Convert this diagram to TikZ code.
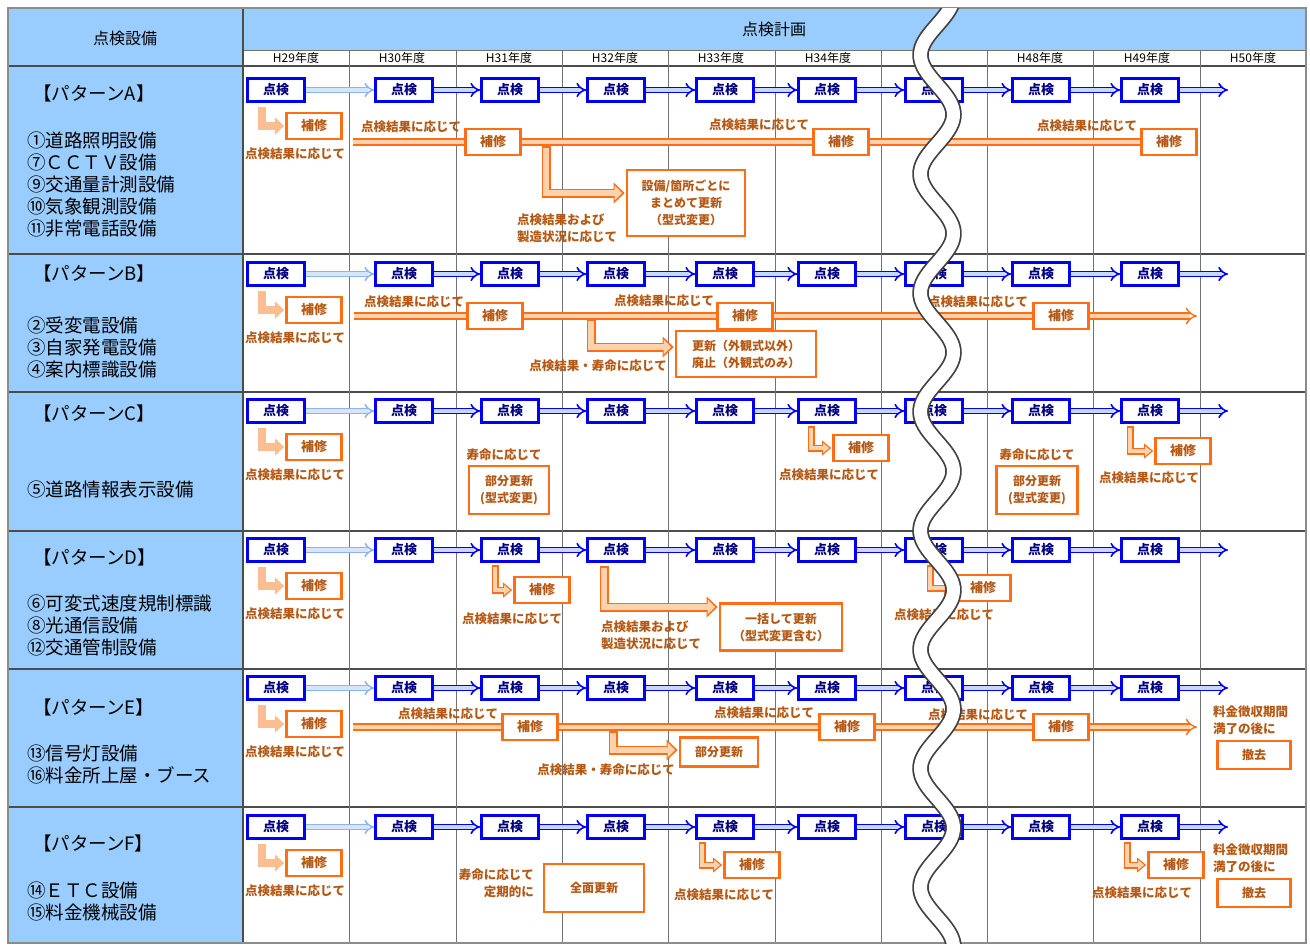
\documentclass[tikz,border=0pt]{standalone}
\usepackage{fontspec}
\setmainfont{Noto Sans CJK JP}
\usetikzlibrary{arrows.meta}
\definecolor{hdrblue}{RGB}{153,204,255}
\definecolor{kblue}{RGB}{0,0,240}
\definecolor{ktext}{RGB}{0,0,130}
\definecolor{klight}{RGB}{200,214,255}
\definecolor{kpale}{RGB}{140,180,240}
\definecolor{kpalein}{RGB}{215,228,250}
\definecolor{rorange}{RGB}{255,110,20}
\definecolor{rlight}{RGB}{252,210,175}
\definecolor{rpale}{RGB}{250,190,145}
\definecolor{rtext}{RGB}{180,88,20}
\tikzset{
  gridline/.style={draw=black!55, line width=1pt},
  rowline/.style={draw=black!70, line width=1.4pt},
  frameline/.style={draw=black!45, line width=1.2pt},
  hdr/.style={inner sep=0pt, font=\fontsize{16}{18}\selectfont},
  yr/.style={inner sep=0pt, font=\fontsize{12}{14}\selectfont},
  lefttext/.style={anchor=west, inner sep=0pt, align=left, font=\fontsize{18.5}{22}\selectfont},
  kbox/.style={draw=kblue, line width=2.7pt, fill=white, minimum width=57pt, minimum height=23pt, inner sep=0pt, text=ktext, font=\bfseries\fontsize{13}{15}\selectfont},
  hbox/.style={draw=rorange, line width=2.7pt, fill=white, minimum width=55pt, minimum height=26pt, inner sep=0pt, text=rtext, font=\bfseries\fontsize{13}{15}\selectfont},
  kobox/.style={hbox, align=center, font=\bfseries\fontsize{12}{17}\selectfont},
  lbl/.style={text=rtext, inner sep=0pt, font=\bfseries\fontsize{12.5}{17}\selectfont},
  karrow/.style={draw=kblue, line width=1.6pt, double=klight, double distance=3.2pt, -{Implies}},
  karrowpale/.style={karrow, draw=kpale, double=kpalein},
  hbar/.style={draw=rorange, line width=1.4pt, double=rlight, double distance=4.4pt},
  lpale/.style={draw=rpale, line width=8pt, shorten >=1pt, -{Triangle[length=9pt,width=17pt,line width=0pt]}},
  lout/.style={draw=rorange, line width=7pt, shorten >=1pt, -{Triangle[length=9pt,width=15pt,line width=0pt]},
    postaction={draw=rlight, line width=3.5pt, shorten <=1.7pt, shorten >=3pt, -{Triangle[length=6pt,width=10pt,line width=0pt]}}},
  lbig/.style={draw=rorange, line width=9pt, shorten >=1pt, -{Triangle[length=11pt,width=21pt,line width=0pt]},
    postaction={draw=rlight, line width=5.5pt, shorten <=1.7pt, shorten >=3.5pt, -{Triangle[length=7.5pt,width=15pt,line width=0pt]}}},
}
\begin{document}
\begin{tikzpicture}[x=1pt,y=-1pt]
  \useasboundingbox (0,0) rectangle (1310,945);
  % 見出しと左列の塗り
  \fill[hdrblue] (8,8) rectangle (243,943);
  \fill[hdrblue] (243,8) rectangle (1306,50);
  % 罫線
  \draw[gridline] (243,50) -- (1306,50);
  \foreach \yy in {66,254,392,531,669,807}
    \draw[rowline] (8,\yy) -- (1306,\yy);
  \foreach \xx in {349,456,562,668,775,881,987,1093,1200}
    \draw[gridline] (\xx,50) -- (\xx,943);
  \draw[rowline] (243,8) -- (243,943);
  \draw[frameline] (8,8) rectangle (1306,943);
  % 見出し
  \node[hdr] (hd1) at (125,38) {点検設備};
  \node[hdr] (hd2) at (774,29) {点検計画};
  \foreach \xx/\lab [count=\i] in {296/29,402/30,509/31,615/32,721/33,828/34,1040/48,1147/49,1253/50}
    \node[yr] (y\i) at (\xx,58) {H\lab 年度};
  % 左列：パターンと設備
  \node[lefttext] (pA) at (33,93) {【パターンA】};
  \node[lefttext] (lA) at (27,185) {①道路照明設備\\⑦ＣＣＴＶ設備\\⑨交通量計測設備\\⑩気象観測設備\\⑪非常電話設備};
  \node[lefttext] (pB) at (33,273) {【パターンB】};
  \node[lefttext] (lB) at (27,347) {②受変電設備\\③自家発電設備\\④案内標識設備};
  \node[lefttext] (pC) at (33,413) {【パターンC】};
  \node[lefttext] (lC) at (27,489) {⑤道路情報表示設備};
  \node[lefttext] (pD) at (33,557) {【パターンD】};
  \node[lefttext] (lD) at (27,625) {⑥可変式速度規制標識\\⑧光通信設備\\⑫交通管制設備};
  \node[lefttext] (pE) at (33,707) {【パターンE】};
  \node[lefttext] (lE) at (27,764) {⑬信号灯設備\\⑯料金所上屋・ブース};
  \node[lefttext] (pF) at (33,843) {【パターンF】};
  \node[lefttext] (lF) at (27,901) {⑭ＥＴＣ設備\\⑮料金機械設備};
  % 各パターンの点検の流れと最初の補修
  \foreach \r/\y in {A/90,B/274,C/411,D/550,E/688,F/827}{
    \foreach \x [count=\i] in {276,404,510,616,725,827,934,1041,1150}
      \node[kbox] (k\r\i) at (\x,\y) {点検};
    \coordinate (e\r) at (1228,\y);
    \draw[karrowpale] (k\r1) -- (k\r2);
    \foreach \i [evaluate=\i as \j using int(\i+1)] in {2,...,8}
      \draw[karrow] (k\r\i) -- (k\r\j);
    \draw[karrow] (k\r9) -- (e\r);
    \node[hbox] (h\r0) at (314,\y+36) {補修};
    \draw[lpale] ([xshift=-14pt,yshift=-4pt]k\r1.south) |- (h\r0);
    \node[lbl] (t\r0) at (295,\y+64) {点検結果に応じて};
  }
  % パターンA
  \node[hbox] (hA1) at (493,142) {補修};
  \node[hbox] (hA2) at (841,142) {補修};
  \node[hbox] (hA3) at (1169,142) {補修};
  \coordinate (sA) at (353,142);
  \draw[hbar] (sA) -- (hA1);
  \draw[hbar] (hA1) -- (hA2);
  \draw[hbar] (hA2) -- (hA3);
  \node[lbl] (tA1) at (411,127) {点検結果に応じて};
  \node[lbl] (tA2) at (759,125) {点検結果に応じて};
  \node[lbl] (tA3) at (1087,126) {点検結果に応じて};
  \node[kobox, minimum width=118pt, minimum height=66pt] (uA) at (686,203) {設備/箇所ごとに\\まとめて更新\\（型式変更）};
  \coordinate (bA) at (546,146);
  \draw[lbig] (bA) |- ([yshift=10pt]uA.west);
  \node[lbl, anchor=west, align=left] (tA4) at (517,228) {点検結果および\\製造状況に応じて};
  % パターンB
  \node[hbox] (hB1) at (495,316) {補修};
  \node[hbox] (hB2) at (745,316) {補修};
  \node[hbox] (hB3) at (1061,316) {補修};
  \coordinate (sB) at (354,316);
  \coordinate (fB) at (1197,316);
  \draw[hbar] (sB) -- (hB1);
  \draw[hbar] (hB1) -- (hB2);
  \draw[hbar] (hB2) -- (hB3);
  \draw[hbar, -{Implies}] (hB3) -- (fB);
  \node[lbl] (tB1) at (414,302) {点検結果に応じて};
  \node[lbl] (tB2) at (664,301) {点検結果に応じて};
  \node[lbl] (tB3) at (978,302) {点検結果に応じて};
  \node[kobox, minimum width=140pt, minimum height=46pt] (uB) at (746,354) {更新（外観式以外）\\廃止（外観式のみ）};
  \coordinate (bB) at (591,319);
  \draw[lbig] (bB) |- ([yshift=7pt]uB.west);
  \node[lbl] (tB4) at (598,366) {点検結果・寿命に応じて};
  % パターンC
  \node[lbl] (tC1) at (504,455) {寿命に応じて};
  \node[kobox, minimum width=80pt, minimum height=48pt] (uC1) at (509,490) {部分更新\\(型式変更)};
  \node[hbox] (hC1) at (861,448) {補修};
  \draw[lout] ([xshift=-16pt,yshift=-2pt]kC6.south) |- (hC1);
  \node[lbl] (tC2) at (829,475) {点検結果に応じて};
  \node[lbl] (tC3) at (1037,455) {寿命に応じて};
  \node[kobox, minimum width=81pt, minimum height=48pt] (uC2) at (1037,490) {部分更新\\(型式変更)};
  \node[hbox] (hC2) at (1183,451) {補修};
  \draw[lout] ([xshift=-20pt,yshift=-2pt]kC9.south) |- (hC2);
  \node[lbl] (tC4) at (1149,478) {点検結果に応じて};
  % パターンD
  \node[hbox] (hD1) at (542,590) {補修};
  \draw[lout] ([xshift=-15pt,yshift=-2pt]kD3.south) |- (hD1);
  \node[lbl] (tD1) at (512,619) {点検結果に応じて};
  \node[kobox, minimum width=122pt, minimum height=47pt] (uD) at (781,627) {一括して更新\\（型式変更含む）};
  \draw[lbig] ([xshift=-12pt,yshift=-3pt]kD4.south) |- ([yshift=20pt]uD.west);
  \node[lbl, anchor=west, align=left] (tD2) at (601,635) {点検結果および\\製造状況に応じて};
  \node[hbox] (hD2) at (983,588) {補修};
  \draw[lout] ([xshift=-4pt,yshift=-2pt]kD7.south) |- (hD2);
  \node[lbl] (tD3) at (944,615) {点検結果に応じて};
  % パターンE
  \node[hbox] (hE1) at (530,727) {補修};
  \node[hbox] (hE2) at (847,727) {補修};
  \node[hbox] (hE3) at (1061,727) {補修};
  \coordinate (sE) at (353,727);
  \coordinate (fE) at (1197,727);
  \draw[hbar] (sE) -- (hE1);
  \draw[hbar] (hE1) -- (hE2);
  \draw[hbar] (hE2) -- (hE3);
  \draw[hbar, -{Implies}] (hE3) -- (fE);
  \node[lbl] (tE1) at (448,714) {点検結果に応じて};
  \node[lbl] (tE2) at (764,713) {点検結果に応じて};
  \node[lbl] (tE3) at (978,715) {点検結果に応じて};
  \node[kobox, minimum width=78pt, minimum height=29pt] (uE) at (719,752) {部分更新};
  \coordinate (bE) at (613,731);
  \draw[lbig] (bE) |- ([yshift=2pt]uE.west);
  \node[lbl] (tE4) at (606,770) {点検結果・寿命に応じて};
  \node[lbl, anchor=west, align=left] (tE5) at (1213,720) {料金徴収期間\\満了の後に};
  \node[kobox, minimum width=73pt, minimum height=28pt] (uE2) at (1254,755) {撤去};
  % パターンF
  \node[lbl, anchor=east, align=right] (tF1) at (534,883) {寿命に応じて\\定期的に};
  \node[kobox, minimum width=100pt, minimum height=48pt] (uF) at (594,888) {全面更新};
  \node[hbox] (hF1) at (752,865) {補修};
  \draw[lout] ([xshift=-23pt,yshift=-2pt]kF5.south) |- (hF1);
  \node[lbl] (tF2) at (724,895) {点検結果に応じて};
  \node[hbox] (hF2) at (1176,865) {補修};
  \draw[lout] ([xshift=-23pt,yshift=-2pt]kF9.south) |- (hF2);
  \node[lbl] (tF3) at (1142,893) {点検結果に応じて};
  \node[lbl, anchor=west, align=left] (tF4) at (1213,858) {料金徴収期間\\満了の後に};
  \node[kobox, minimum width=73pt, minimum height=28pt] (uF2) at (1254,893) {撤去};
  % 省略を示す波線
  \begin{scope}
    \clip (8,8) rectangle (1306,943);
    \draw[black!75, line width=16.5pt] plot[domain=0:950, samples=300, variable=\t] ({937+16.5*cos((\t-114.5)/118.9*360)}, \t);
    \draw[white, line width=13pt] plot[domain=0:950, samples=300, variable=\t] ({937+16.5*cos((\t-114.5)/118.9*360)}, \t);
  \end{scope}
\end{tikzpicture}
\end{document}
